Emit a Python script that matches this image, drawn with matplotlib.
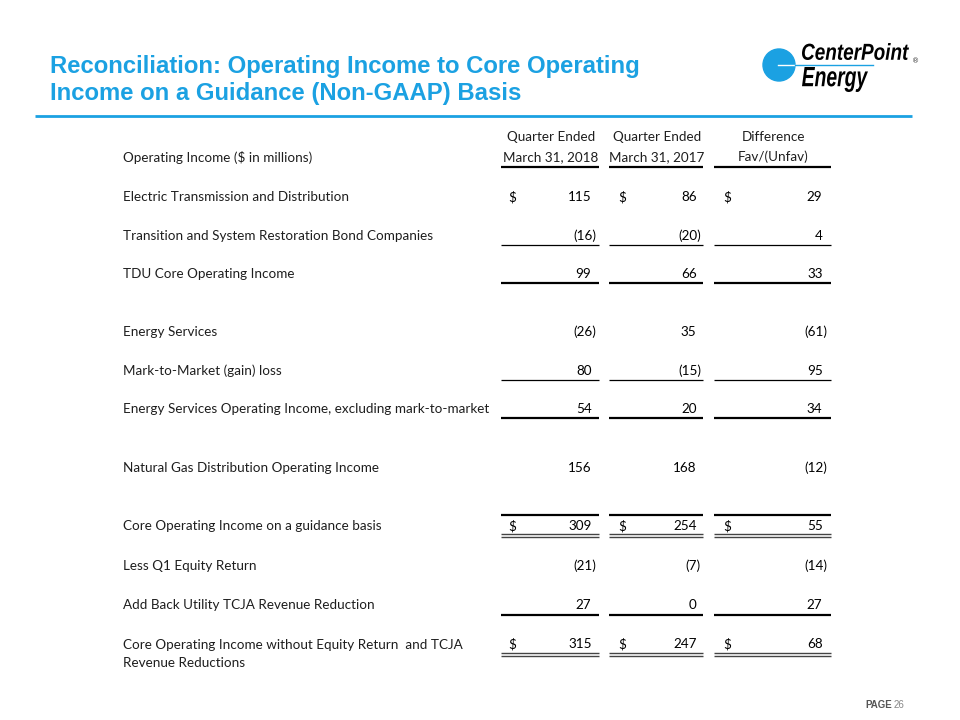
import matplotlib.pyplot as plt
from matplotlib.patches import Circle, PathPatch
from matplotlib.textpath import TextPath
from matplotlib.font_manager import FontProperties
from matplotlib.transforms import Affine2D

# Table content
row_labels = [
    "Electric Transmission and Distribution",
    "Transition and System Restoration Bond Companies",
    "TDU Core Operating Income",
    "Energy Services",
    "Mark-to-Market (gain) loss",
    "Energy Services Operating Income, excluding mark-to-market",
    "Natural Gas Distribution Operating Income",
    "Core Operating Income on a guidance basis",
    "Less Q1 Equity Return",
    "Add Back Utility TCJA Revenue Reduction",
    "Core Operating Income without Equity Return  and TCJA\nRevenue Reductions",
]
q1_2018 = [115, -16, 99, -26, 80, 54, 156, 309, -21, 27, 315]
q1_2017 = [86, -20, 66, 35, -15, 20, 168, 254, -7, 0, 247]
difference = [29, 4, 33, -61, 95, 34, -12, 55, -14, 27, 68]
dollar_rows = [0, 7, 10]

col_headers = [("Quarter Ended", "March 31, 2018"),
               ("Quarter Ended", "March 31, 2017"),
               ("Difference", "Fav/(Unfav)")]

title = "Reconciliation: Operating Income to Core Operating\nIncome on a Guidance (Non-GAAP) Basis"
blue = "#1BA1E2"
txt = "#1e1e1e"
font = "Lato"

fig = plt.figure(figsize=(9.6, 7.2), dpi=100)
ax = fig.add_axes([0, 0, 1, 1])
ax.set_xlim(0, 960)
ax.set_ylim(720, 0)
ax.axis("off")

# Title and rule
ax.text(50, 80, title, fontsize=17.2, fontweight="bold", color=blue,
        family="Liberation Sans", va="center", ha="left", linespacing=1.2)
ax.plot([35, 912], [116, 116], color=blue, lw=2, solid_capstyle="butt")

# Logo
ax.add_patch(Circle((779, 65), 16, color=blue, zorder=2))
ax.plot([778, 795], [65, 65], color="white", lw=1, zorder=3)
ax.plot([795, 873], [65, 65], color=blue, lw=1, zorder=3)


def squeezed_text(s, x, y, w, h):
    tp = TextPath((0, 0), s, size=10,
                  prop=FontProperties(family="Liberation Sans", weight="bold", style="italic"))
    bb = tp.get_extents()
    sx = w / bb.width
    sy = h / bb.height
    tr = Affine2D().translate(-bb.x0, -bb.y0).scale(sx, -sy).translate(x, y) + ax.transData
    ax.add_patch(PathPatch(tp, transform=tr, color="black", lw=0, zorder=3))


squeezed_text("CenterPoint", 802, 60, 107, 17)
squeezed_text("Energy", 802, 92, 66, 25)
ax.text(916, 61, "®", fontsize=5, color="#333333", ha="center", va="center")

# Page number
ax.text(865, 705, "PAGE", fontsize=7, fontweight="bold", color="#555555",
        family="Liberation Sans", ha="left", va="center")
ax.text(894, 705, "26", fontsize=7, color="#888888",
        family="Liberation Sans", ha="left", va="center")

# Table layout
fs = 9.7
label_x = 123
col_spans = [(501, 599), (609, 703), (714, 831)]
dollar_x = [508, 618, 723]
num_right = [591.5, 696.5, 822.5]
row_y = [197, 236, 274, 332, 371, 409, 468, 526, 566, 605, 654]

ax.text(label_x, 158, "Operating Income ($ in millions)", fontsize=fs, family=font,
        color=txt, ha="left", va="center")
for (l, r), (h1, h2) in zip(col_spans, col_headers):
    cx = (l + r) / 2 + 1
    ax.text(cx, 137, h1, fontsize=fs, family=font, color=txt, ha="center", va="center")
    ax.text(cx, 157, h2, fontsize=fs, family=font, color=txt, ha="center", va="center")


def hline(y, kind):
    for l, r in col_spans:
        if kind == "double":
            ax.plot([l, r], [y - 1.5, y - 1.5], color="#444444", lw=1, solid_capstyle="butt")
            ax.plot([l, r], [y + 1.5, y + 1.5], color="#444444", lw=1, solid_capstyle="butt")
        else:
            lw = 1.6 if kind == "thick" else 0.9
            ax.plot([l, r], [y, y], color="black", lw=lw, solid_capstyle="butt")


hline(166.5, "thick")

series = [q1_2018, q1_2017, difference]
for i, label in enumerate(row_labels):
    y = row_y[i]
    if "\n" in label:
        ax.text(label_x, y, label, fontsize=fs, family=font, color=txt,
                ha="left", va="center", linespacing=1.6)
        y = y - 10
    else:
        ax.text(label_x, y, label, fontsize=fs, family=font, color=txt,
                ha="left", va="center")
    for c, vals in enumerate(series):
        v = vals[i]
        if v < 0:
            ax.text(num_right[c] + 4.5, y, f"({-v})", fontsize=fs, family=font,
                    color="black", ha="right", va="center")
        else:
            ax.text(num_right[c], y, f"{v}", fontsize=fs, family=font,
                    color="black", ha="right", va="center")
        if i in dollar_rows:
            ax.text(dollar_x[c], y, "$", fontsize=fs, family=font,
                    color="black", ha="left", va="center")

hline(245, "thin")
hline(283, "thick")
hline(380, "thin")
hline(418, "thick")
hline(515, "thick")
hline(535, "double")
hline(614.5, "thick")
hline(654, "double")

fig.savefig("out.png", dpi=100)
